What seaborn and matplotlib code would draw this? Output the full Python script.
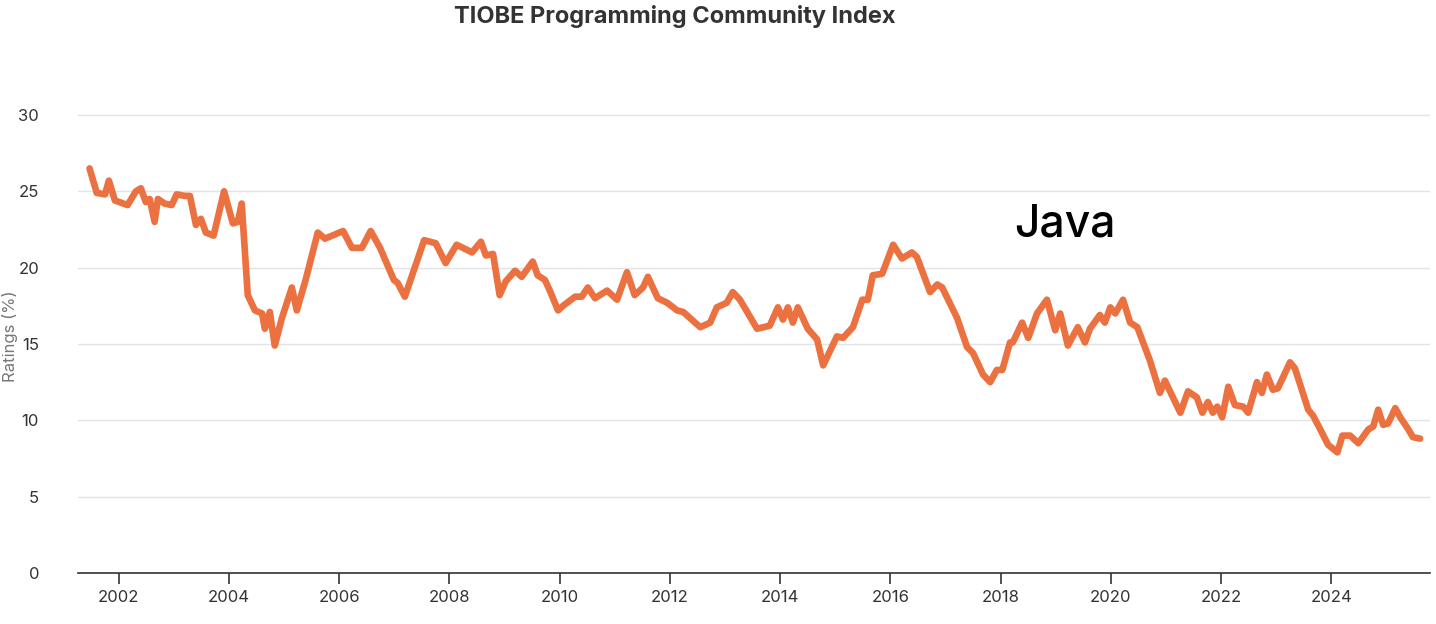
import matplotlib
matplotlib.use("Agg")
import matplotlib.pyplot as plt
import seaborn as sns
import pandas as pd

years = [2001.47,2001.60,2001.75,2001.82,2001.93,2002.16,2002.31,2002.40,2002.49,2002.56,2002.65,2002.71,2002.83,2002.96,2003.05,2003.20,2003.29,2003.40,2003.49,2003.58,2003.72,2003.91,2004.07,2004.16,2004.23,2004.34,2004.47,2004.60,2004.65,2004.74,2004.83,2004.96,2005.14,2005.23,2005.39,2005.61,2005.74,2006.07,2006.23,2006.41,2006.57,2006.74,2006.99,2007.06,2007.19,2007.54,2007.75,2007.93,2008.13,2008.41,2008.57,2008.66,2008.79,2008.91,2009.02,2009.19,2009.31,2009.51,2009.60,2009.73,
         2009.82,2009.97,2010.06,2010.28,2010.40,2010.51,2010.64,2010.86,2011.04,2011.22,2011.36,2011.51,2011.60,2011.78,2011.95,2012.13,2012.24,2012.55,2012.73,2012.85,2013.03,2013.14,2013.27,2013.45,2013.58,2013.81,2013.96,2014.05,2014.14,2014.23,2014.32,2014.50,2014.67,2014.78,2015.03,2015.14,2015.32,2015.49,2015.59,2015.68,2015.85,2016.05,2016.21,2016.39,2016.48,2016.72,2016.85,2016.94,2017.21,2017.39,2017.50,2017.68,2017.81,2017.93,
         2018.03,2018.17,2018.22,2018.39,2018.50,2018.66,2018.84,2018.99,2019.08,2019.22,2019.40,2019.53,2019.62,2019.80,2019.89,2019.99,2020.08,2020.22,2020.35,2020.48,2020.71,2020.89,2020.98,2021.26,2021.40,2021.56,2021.66,2021.76,2021.85,2021.93,2022.02,2022.13,2022.25,2022.40,2022.49,2022.65,2022.74,2022.83,2022.94,2023.03,2023.25,2023.34,2023.58,2023.67,2023.80,2023.94,2024.11,2024.20,2024.34,2024.49,2024.67,2024.76,2024.85,2024.94,2025.03,2025.16,2025.25,2025.38,2025.48,2025.61]
ratings = [26.5,24.9,24.8,25.7,24.4,24.1,25.0,25.2,24.3,24.5,23.0,24.5,24.2,24.1,24.8,24.7,24.7,22.8,23.2,22.3,22.1,25.0,22.9,23.0,24.2,18.2,17.2,17.0,16.0,17.1,14.9,16.7,18.7,17.2,19.2,22.3,21.9,22.4,21.3,21.3,22.4,21.3,19.2,19.0,18.1,21.8,21.6,20.3,21.5,21.0,21.7,20.8,20.9,18.2,19.1,19.8,19.4,20.4,19.5,19.2,
           18.5,17.2,17.5,18.1,18.1,18.7,18.0,18.5,17.9,19.7,18.2,18.7,19.4,18.0,17.7,17.2,17.1,16.1,16.4,17.4,17.7,18.4,17.9,16.8,16.0,16.2,17.4,16.6,17.4,16.4,17.4,16.0,15.3,13.6,15.5,15.4,16.1,17.9,17.9,19.5,19.6,21.5,20.6,21.0,20.7,18.4,18.9,18.7,16.7,14.8,14.4,13.0,12.5,13.3,
           13.3,15.1,15.1,16.4,15.4,17.0,17.9,15.9,17.0,14.9,16.1,15.1,16.0,16.9,16.4,17.4,17.0,17.9,16.4,16.1,13.9,11.8,12.6,10.5,11.9,11.5,10.5,11.2,10.5,10.9,10.2,12.2,11.0,10.9,10.5,12.5,11.8,13.0,12.0,12.1,13.8,13.4,10.7,10.3,9.4,8.4,7.9,9.0,9.0,8.5,9.4,9.6,10.7,9.7,9.8,10.8,10.2,9.5,8.9,8.8]
tick_years = list(range(2002, 2025, 2))
y_ticks = [0, 5, 10, 15, 20, 25, 30]

df = pd.DataFrame({"year": years, "rating": ratings})

sns.set_theme(style="white")
plt.rcParams['font.family'] = ['Inter', 'DejaVu Sans']
fig = plt.figure(figsize=(14.36, 6.24), dpi=100)
ax = fig.add_axes([78/1436, 51/624, (1430-78)/1436, (573-100)/624])
sns.lineplot(data=df, x="year", y="rating", ax=ax, color="#EC7140", linewidth=4.8, solid_joinstyle="round", solid_capstyle="round")

ax.set_xlim(2001.26, 2025.79)
ax.set_ylim(0, 30 * (573 - 100) / (573 - 115))
ax.set_xticks(tick_years)
ax.set_xticklabels([str(y) for y in tick_years], fontsize=12, color="#333333")
ax.set_yticks(y_ticks)
ax.set_yticklabels([str(v) for v in y_ticks], fontsize=12, color="#333333")
ax.yaxis.grid(True, color="#e3e3e3", linewidth=1)
ax.xaxis.grid(False)
for s in ["top", "right", "left"]:
    ax.spines[s].set_visible(False)
ax.spines["bottom"].set_color("#333333")
ax.spines["bottom"].set_linewidth(1.2)
ax.tick_params(axis="x", bottom=True, length=8, width=1.2, color="#333333", pad=4)
ax.tick_params(axis="y", left=False, pad=22)
ax.set_xlabel("")
ax.set_ylabel("Ratings (%)", fontsize=12, color="#777777", labelpad=0)
ax.text(2019.17, 22.8, "Java", fontsize=32, fontweight="medium", color="black", ha="center", va="center")
fig.text(675/1436, 1 - 17/624, "TIOBE Programming Community Index", fontsize=17, fontweight="bold", color="#333333", ha="center", va="center")
fig.savefig("out.png", dpi=100)
